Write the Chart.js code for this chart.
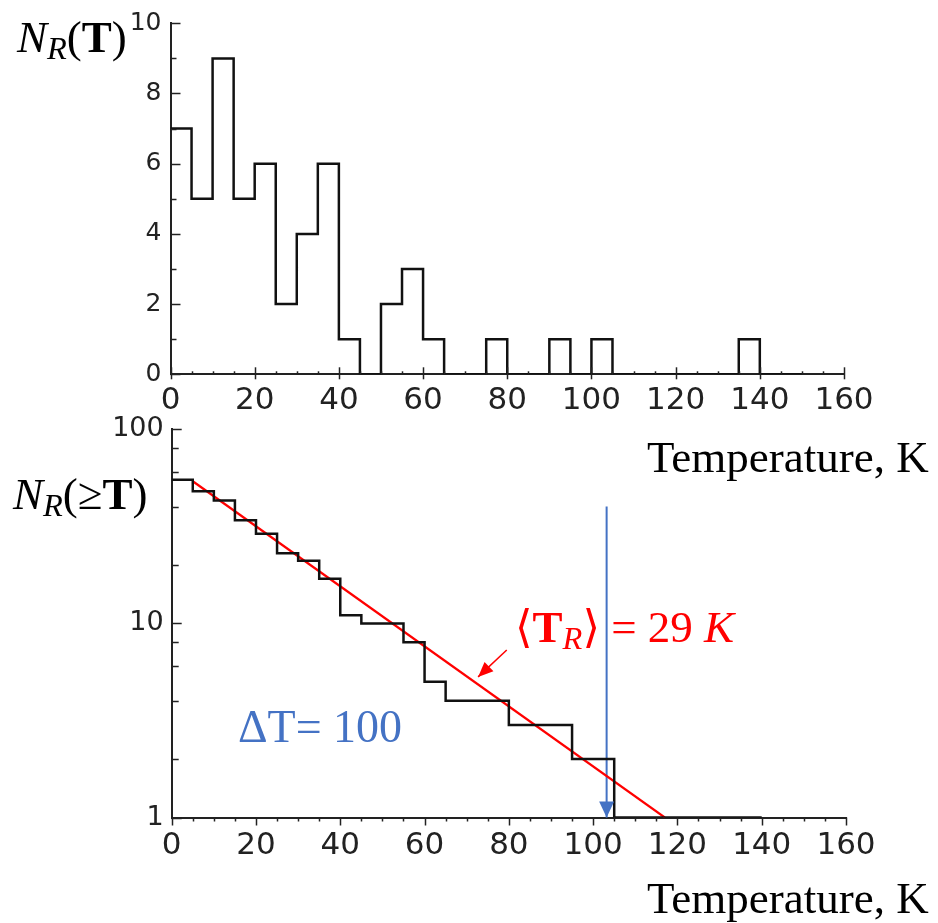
<!DOCTYPE html>
<html><head><meta charset="utf-8">
<script src="https://cdn.jsdelivr.net/npm/chart.js@4.4.1/dist/chart.umd.min.js"></script>
<style>
html,body{margin:0;padding:0;background:#fff;}
#wrap{position:relative;width:938px;height:923px;overflow:hidden;background:#fff;}
canvas{position:absolute;left:0;}
.t{position:absolute;font-family:"Liberation Serif","DejaVu Serif",serif;white-space:nowrap;line-height:1;color:#000;}
.sub{font-size:0.72em;position:relative;top:0.22em;font-style:italic;font-weight:normal;}
</style></head><body>
<div id="wrap">
<canvas id="c1" width="938" height="420" style="top:0px"></canvas>
<canvas id="c2" width="938" height="523" style="top:400px"></canvas>
<div class="t" style="left:17px;top:15px;font-size:45px;"><i>N</i><span class="sub">R</span>(<b>T</b>)</div>
<div class="t" style="left:13px;top:472px;font-size:45px;"><i>N</i><span class="sub">R</span>(≥<b>T</b>)</div>
<div class="t" style="left:647px;top:435px;font-size:45px;">Temperature, K</div>
<div class="t" style="left:647px;top:876px;font-size:45px;">Temperature, K</div>
<div class="t" style="left:238px;top:704px;font-size:46px;color:#4472C4;">ΔT= 100</div>
<div class="t" style="left:515px;top:605px;font-size:45px;color:#ff0000;">⟨<b>T</b><span class="sub">R</span>⟩ = 29 <i>K</i></div>
</div>
<script>
// ---- data ----
const binEdges = [0,5,10,15,20,25,30,35,40,45,50,55,60,65,70,75,80,85,90,95,100,105,110,115,120,125,130,135,140,145,150];
const counts   = [7,5,9,5,6,2,4,6,1,0,2,3,1,0,0,1,0,0,1,0,1,0,0,0,0,0,0,1,0,0];
const cumEdges = [0,5,10,15,20,25,30,35,40,45,50,55,60,65,70,75,80,85,90,95,100,105,110,115,120,125,130,135,140];
const cumCounts = [55,48,43,34,29,23,21,17,11,10,10,8,5,4,4,4,3,3,3,2,2,1,1,1,1,1,1,1];
const fitX = [5, 117];
const fitY = [54, 1];
const deltaArrowX = [103.2, 103.2];
const deltaArrowY = [40, 1];
const labelArrowX = [79.5, 72.7];
const labelArrowY = [7.3, 5.3];
const xTickValues = [0,20,40,60,80,100,120,140,160];
const topYTickValues = [0,2,4,6,8,10];
const logYTickValues = [1,10,100];
const logYMinor = [2,4,6,8,20,40,60,80];

function stepPoints(edges, vals){
  const pts = vals.map((v,i)=>({x:edges[i], y:v}));
  pts.push({x:edges[vals.length], y:vals[vals.length-1]});
  return pts;
}
function pairPoints(xs, ys){ return xs.map((x,i)=>({x:x, y:ys[i]})); }

const every = (a,b,s)=>{const r=[];for(let v=a;v<=b+1e-9;v+=s)r.push(v);return r;};

const tickPlugin = {
  id:'customTicks',
  afterDraw(chart, args, opts){
    const ctx = chart.ctx; ctx.save(); ctx.strokeStyle = '#222'; ctx.lineWidth = 1.5;
    (opts.marks||[]).forEach(t=>{
      const sc = chart.scales[t.axis];
      t.values.forEach(v=>{
        const p = Math.round(sc.getPixelForValue(v))+0.5;
        ctx.beginPath();
        if (t.axis==='x'){ const y = sc.top; ctx.moveTo(p, y - t.up); ctx.lineTo(p, y + t.down); }
        else { const x = sc.right; ctx.moveTo(x, p); ctx.lineTo(x + t.len, p); }
        ctx.stroke();
      });
    });
    ctx.restore();
  }
};
const arrowPlugin = {
  id:'arrowHeads',
  afterDatasetsDraw(chart){
    const ctx = chart.ctx;
    chart.data.datasets.forEach((ds,i)=>{
      if(!ds.arrowHead) return;
      const pts = chart.getDatasetMeta(i).data;
      const a = pts[pts.length-2], b = pts[pts.length-1];
      const ang = Math.atan2(b.y-a.y, b.x-a.x);
      const L = ds.arrowHead.length, W = ds.arrowHead.width/2;
      const c = Math.cos(ang), s = Math.sin(ang);
      ctx.save(); ctx.fillStyle = ds.borderColor; ctx.beginPath();
      ctx.moveTo(b.x, b.y);
      ctx.lineTo(b.x - L*c + W*s, b.y - L*s - W*c);
      ctx.lineTo(b.x - L*c - W*s, b.y - L*s + W*c);
      ctx.closePath(); ctx.fill(); ctx.restore();
    });
  }
};

const tickFontX = {family:'DejaVu Sans', size:31};
const axisBorder = {display:true, color:'#222', width:2};
const noGrid = {display:true, drawOnChartArea:false, drawTicks:false};
const fitY0 = w => s => { s.width = w; s.paddingTop = 0; s.paddingBottom = 0; };
const fitX0 = h => s => { s.height = h; s.paddingLeft = 0; s.paddingRight = 0; };

// ---- top chart ----
new Chart(document.getElementById('c1'), {
  type:'line',
  data:{datasets:[{
    data: stepPoints(binEdges, counts), stepped:'before',
    borderColor:'#111', borderWidth:2.5, pointRadius:0, fill:false
  }]},
  options:{
    responsive:false, animation:false, events:[],
    layout:{padding:{left:110.5, right:94, top:23.3, bottom:0}},
    plugins:{legend:{display:false}, tooltip:{enabled:false},
      customTicks:{marks:[
        {axis:'x', values:every(0,160,20), up:7, down:5},
        {axis:'x', values:every(5,155,5).filter(v=>v%20!==0), up:3, down:0},
        {axis:'y', values:every(0,10,2), len:10},
        {axis:'y', values:every(1,9,2), len:6}
      ]}},
    scales:{
      x:{type:'linear', min:0, max:160, grid:noGrid, border:axisBorder,
         afterBuildTicks:s=>{s.ticks = xTickValues.map(v=>({value:v}));},
         afterFit:fitX0(45.7),
         ticks:{font:tickFontX, color:'#222', padding:8, maxRotation:0, autoSkip:false}},
      y:{type:'linear', min:0, max:10, grid:noGrid, border:axisBorder,
         afterBuildTicks:s=>{s.ticks = topYTickValues.map(v=>({value:v}));},
         afterFit:fitY0(60),
         ticks:{font:{family:'DejaVu Sans', size:25}, color:'#222', padding:9}}
    }
  },
  plugins:[tickPlugin]
});

// ---- bottom chart ----
new Chart(document.getElementById('c2'), {
  type:'line',
  data:{datasets:[
    {data: stepPoints(cumEdges, cumCounts), stepped:'before', borderColor:'#111', borderWidth:2.5, pointRadius:0, fill:false},
    {data: pairPoints(fitX, fitY), borderColor:'#ff0000', borderWidth:2.2, pointRadius:0, fill:false},
    {data: pairPoints(deltaArrowX, deltaArrowY), borderColor:'#4472C4', borderWidth:2, pointRadius:0, fill:false, clip:false, arrowHead:{length:16, width:15}},
    {data: pairPoints(labelArrowX, labelArrowY), borderColor:'#ff0000', borderWidth:1.5, pointRadius:0, fill:false, clip:false, arrowHead:{length:15, width:13}}
  ]},
  options:{
    responsive:false, animation:false, events:[],
    layout:{padding:{left:111.7, right:92, top:29.3, bottom:45.5}},
    plugins:{legend:{display:false}, tooltip:{enabled:false},
      customTicks:{marks:[
        {axis:'x', values:every(0,160,20), up:0, down:8},
        {axis:'x', values:every(5,155,5).filter(v=>v%20!==0), up:0, down:4},
        {axis:'y', values:logYTickValues, len:10},
        {axis:'y', values:logYMinor, len:7}
      ]}},
    scales:{
      x:{type:'linear', min:0, max:160, grid:noGrid, border:axisBorder,
         afterBuildTicks:s=>{s.ticks = xTickValues.map(v=>({value:v}));},
         afterFit:fitX0(60),
         ticks:{font:tickFontX, color:'#222', padding:10, maxRotation:0, autoSkip:false}},
      y:{type:'logarithmic', min:1, max:100, grid:noGrid, border:axisBorder,
         afterBuildTicks:s=>{s.ticks = logYTickValues.map(v=>({value:v}));},
         afterFit:fitY0(60),
         ticks:{font:{family:'DejaVu Sans', size:27}, color:'#222', padding:8, callback:v=>String(v)}}
    }
  },
  plugins:[tickPlugin, arrowPlugin]
});
</script>
</body></html>
